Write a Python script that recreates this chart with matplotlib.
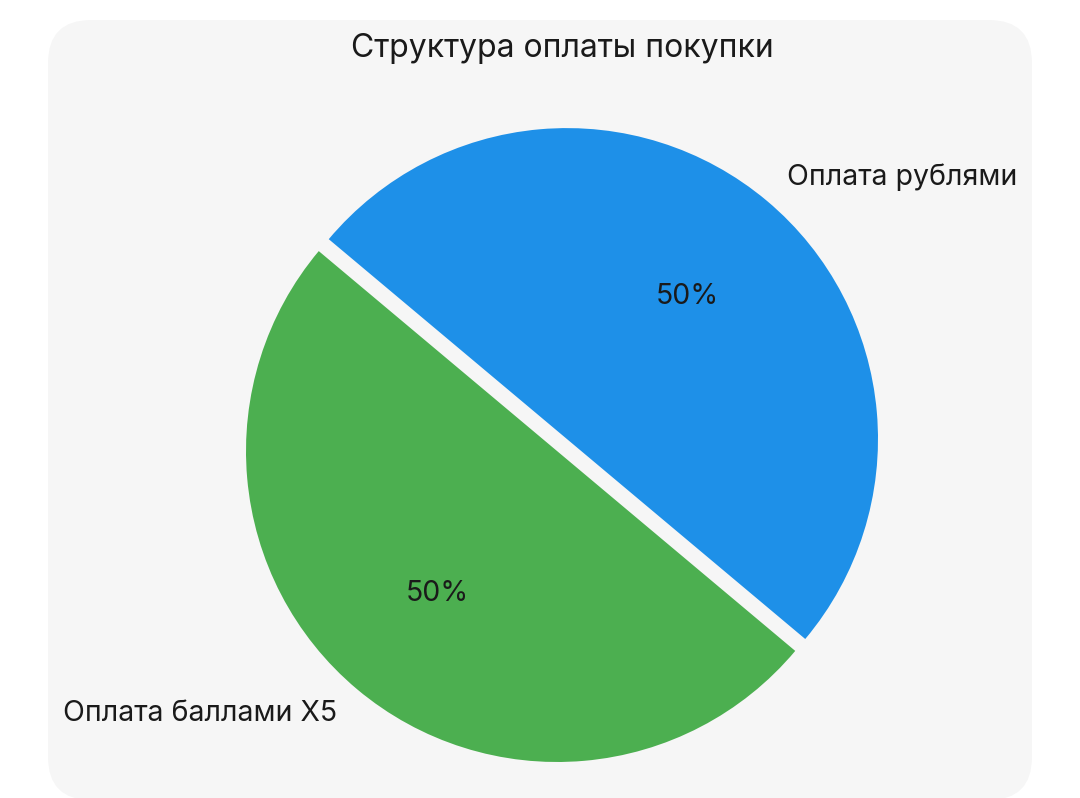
import numpy as np
import matplotlib.pyplot as plt
from matplotlib.patches import FancyBboxPatch

# данные
labels = ['Оплата рублями', 'Оплата баллами X5']
shares = [50, 50]
colors = ['#1E90E8', '#4CAF50']
explode = [0.05, 0]

plt.rcParams['font.family'] = ['Inter', 'DejaVu Sans']

W, H = 1080, 798
fig = plt.figure(figsize=(W / 100, H / 100), dpi=100)
fig.patch.set_facecolor('white')

# серая подложка с закруглёнными углами
panel = FancyBboxPatch((48 / W, -2 / H), (1032 - 48) / W, 780 / H,
                       boxstyle='round,pad=0,rounding_size=0.04',
                       transform=fig.transFigure, facecolor='#f6f6f6',
                       edgecolor='none', mutation_aspect=W / H, zorder=-1)
fig.patches.append(panel)

ax = fig.add_axes([0, 0, 1, 1])
ax.set_facecolor('none')

wedges, texts, autotexts = ax.pie(shares, labels=labels, colors=colors, explode=explode,
                                  startangle=-40, autopct='%1.0f%%', pctdistance=0.6,
                                  labeldistance=1.1,
                                  textprops={'fontsize': 20.5, 'color': '#1a1a1a'})

# центр круга в пикселях и радиус
cx, cy, r = 557, 451, 311
ax.set_xlim(-cx / r, (W - cx) / r)
ax.set_ylim(-(H - cy) / r, cy / r)
ax.set_aspect('auto')
ax.axis('off')

fig.text(562 / W, 1 - 49 / H, 'Структура оплаты покупки',
         ha='center', va='center', fontsize=23, color='#1a1a1a')

fig.savefig('out.png', dpi=100, facecolor='white')
